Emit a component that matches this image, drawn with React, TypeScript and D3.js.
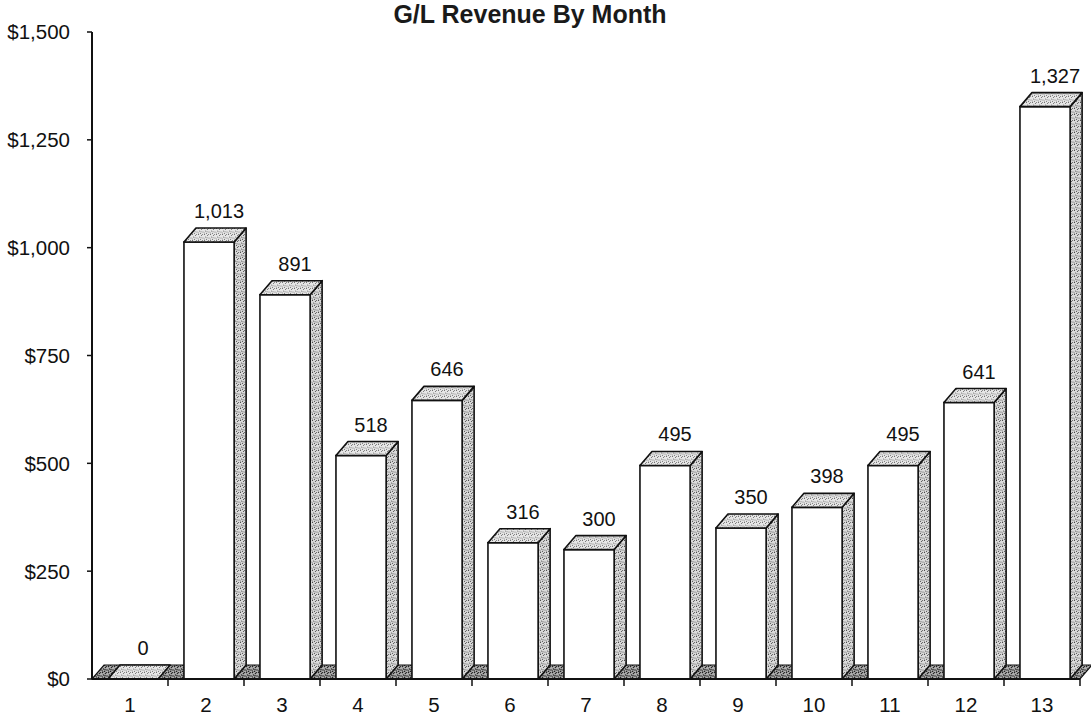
import React from "react";
import * as d3 from "d3";

const title = "G/L Revenue By Month";
const months = ["1", "2", "3", "4", "5", "6", "7", "8", "9", "10", "11", "12", "13"];
const revenue = [0, 1013, 891, 518, 646, 316, 300, 495, 350, 398, 495, 641, 1327];
const yTicks = [0, 250, 500, 750, 1000, 1250, 1500];

// texture dots for stipple (decorative pattern only)
const stippleDots: [number, number][] = [
  [0.5, 0.5], [3.5, 1.5], [1.5, 3.0], [5.0, 4.0], [2.5, 5.5], [4.5, 0.2], [0.2, 5.0], [3.0, 3.8],
];

const W = 1091;
const H = 719;
const left = 92;
const right = 1080;
const top = 32;
const bottom = 679;
const depthX = 12;
const depthY = 14;

export default function App() {
  const x = d3.scaleBand<string>().domain(months).range([left, right]).paddingInner(0).paddingOuter(0);
  const y = d3.scaleLinear().domain([0, 1500]).range([bottom, top]);
  const bw = x.bandwidth();
  const fmtY = (v: number) => "$" + d3.format(",")(v);
  const fmtV = d3.format(",");

  const pattern = (id: string, bg: string, dot: string, r: number) => (
    <pattern id={id} width={6} height={6} patternUnits="userSpaceOnUse">
      <rect width={6} height={6} fill={bg} />
      {stippleDots.map(([dx, dy], i) => (
        <circle key={i} cx={dx} cy={dy} r={r} fill={dot} />
      ))}
    </pattern>
  );

  const floorPts = [
    [left, bottom],
    [right, bottom],
    [right + depthX, bottom - depthY],
    [left + depthX, bottom - depthY],
  ];

  return (
    <svg width={W} height={H} style={{ display: "block", position: "absolute", left: 0, top: 0, background: "#fff" }}
      fontFamily="'Liberation Sans', Arial, sans-serif">
      <defs>
        {pattern("stTop", "#e6e6e6", "#6a6a6a", 0.55)}
        {pattern("stSide", "#dadada", "#4a4a4a", 0.6)}
        {pattern("stFloor", "#b0b0b0", "#222", 0.8)}
      </defs>
      <rect width={W} height={H} fill="#fff" />
      <text x={530} y={23} textAnchor="middle" fontWeight="bold" fontSize={25} fill="#1a1a1a">{title}</text>

      {/* floor */}
      <polygon points={floorPts.map((p) => p.join(",")).join(" ")} fill="url(#stFloor)" stroke="#111" strokeWidth={1.2} />

      {/* bars */}
      {revenue.map((v, i) => {
        const x0 = (x(months[i]) as number) + bw * 0.21;
        const w = bw * 0.66;
        const yt = y(v);
        const x1 = x0 + w;
        const side = [
          [x1, yt], [x1 + depthX, yt - depthY], [x1 + depthX, bottom - depthY], [x1, bottom],
        ];
        const topFace = [
          [x0, yt], [x1, yt], [x1 + depthX, yt - depthY], [x0 + depthX, yt - depthY],
        ];
        return (
          <g key={i}>
            {v > 0 && (
              <polygon points={side.map((p) => p.join(",")).join(" ")} fill="url(#stSide)" stroke="#111" strokeWidth={1.6} strokeLinejoin="round" />
            )}
            {v > 0 && <rect x={x0} y={yt} width={w} height={bottom - yt} fill="#fff" stroke="#111" strokeWidth={1.6} />}
            <polygon points={topFace.map((p) => p.join(",")).join(" ")} fill="url(#stTop)" stroke="#111" strokeWidth={1.6} strokeLinejoin="round" />
            <text x={x0 + w / 2 + 10} y={yt - depthY - 10} textAnchor="middle" fontSize={20} fill="#111">{fmtV(v)}</text>
          </g>
        );
      })}

      {/* axes */}
      <line x1={left} y1={top} x2={left} y2={bottom} stroke="#111" strokeWidth={2} />
      <line x1={left} y1={bottom} x2={right} y2={bottom} stroke="#111" strokeWidth={2} />
      {yTicks.map((t) => (
        <g key={t}>
          <line x1={left - 5} x2={left} y1={y(t)} y2={y(t)} stroke="#111" strokeWidth={1.5} />
          <text x={70} y={y(t)} dy="0.36em" textAnchor="end" fontSize={20.5} fill="#111">{fmtY(t)}</text>
        </g>
      ))}
      {months.map((m) => (
        <g key={m}>
          <line x1={(x(m) as number) + bw} x2={(x(m) as number) + bw} y1={bottom} y2={bottom + 7} stroke="#111" strokeWidth={1.5} />
          <text x={(x(m) as number) + bw / 2} y={712} textAnchor="middle" fontSize={20.5} fill="#111">{m}</text>
        </g>
      ))}
    </svg>
  );
}
